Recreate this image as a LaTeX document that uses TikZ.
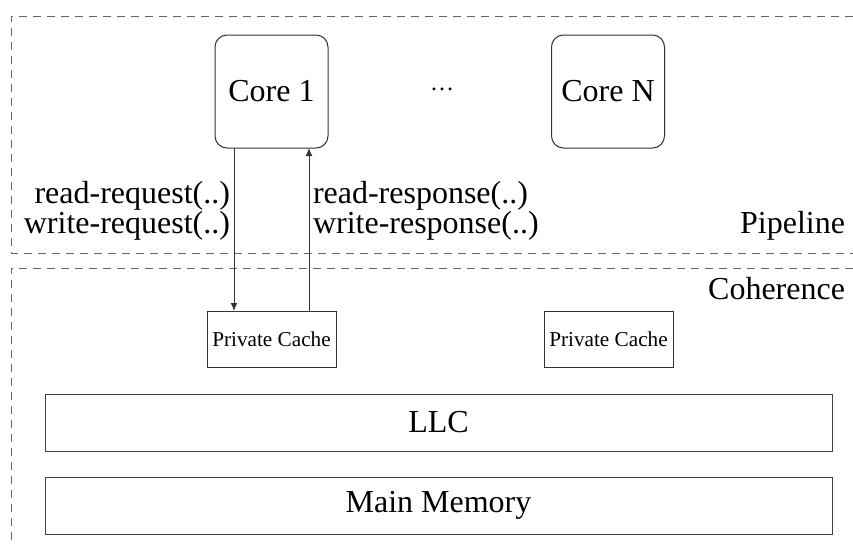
\documentclass[tikz,border=0pt]{standalone}
\usepackage{fontspec}
\setmainfont{Liberation Serif}
\usetikzlibrary{arrows.meta}
\begin{document}
\begin{tikzpicture}[x=0.5pt,y=-0.5pt,
  every node/.style={inner sep=0pt, outer sep=0pt},
  big/.style={font=\fontsize{16}{16}\selectfont},
  small/.style={font=\fontsize{10.6}{11}\selectfont},
  layer/.style={draw=black!60, line width=0.5pt, dash pattern=on 4pt off 3pt},
  corebox/.style={draw=black!80, line width=0.5pt, rounded corners=6pt,
    minimum width=56.5pt, minimum height=56.5pt, big},
  cachebox/.style={draw=black!80, line width=0.5pt,
    minimum width=64.5pt, minimum height=28pt, small},
  levelbox/.style={draw=black!75, line width=0.5pt,
    minimum width=393.5pt, minimum height=28.5pt, big},
  link/.style={draw=black!80, line width=0.5pt, -{Latex[length=4pt,width=3.4pt]}}
]
\useasboundingbox (0,0) rectangle (853,546);

% layer frames
\draw[layer] (853,16) -- (11,16) -- (11,253) -- (853,253);
\draw[layer] (853,268) -- (11,268) -- (11,546);

% cores
\node[corebox] (core1) at (271.5,91.5) {Core 1};
\node[corebox] (coreN) at (608,91.5) {Core N};
\node[font=\fontsize{12}{12}\selectfont, anchor=base] (dots) at (442,90.5) {…};

% private caches
\node[cachebox] (pc1) at (271.5,339) {Private Cache};
\node[cachebox] (pcN) at (608.5,339) {Private Cache};

% shared levels
\node[levelbox] (llc) at (438.5,422.5) {LLC};
\node[levelbox] (mem) at (438.5,505.5) {Main Memory};

% request / response channels
\draw[link] ([xshift=-18.75pt]core1.south) -- ([xshift=-18.75pt]pc1.north);
\draw[link] ([xshift=18.75pt]pc1.north) -- ([xshift=18.75pt]core1.south);

\node[big, anchor=base east] (rreq) at (230,203) {read-request(..)};
\node[big, anchor=base east] (wreq) at (230,233) {write-request(..)};
\node[big, anchor=base west] (rres) at (313,203) {read-response(..)};
\node[big, anchor=base west] (wres) at (313,233) {write-response(..)};

% layer names
\node[big, anchor=base east] (pipe) at (845,233) {Pipeline};
\node[big, anchor=base east] (coh) at (845,299) {Coherence};
\end{tikzpicture}
\end{document}
